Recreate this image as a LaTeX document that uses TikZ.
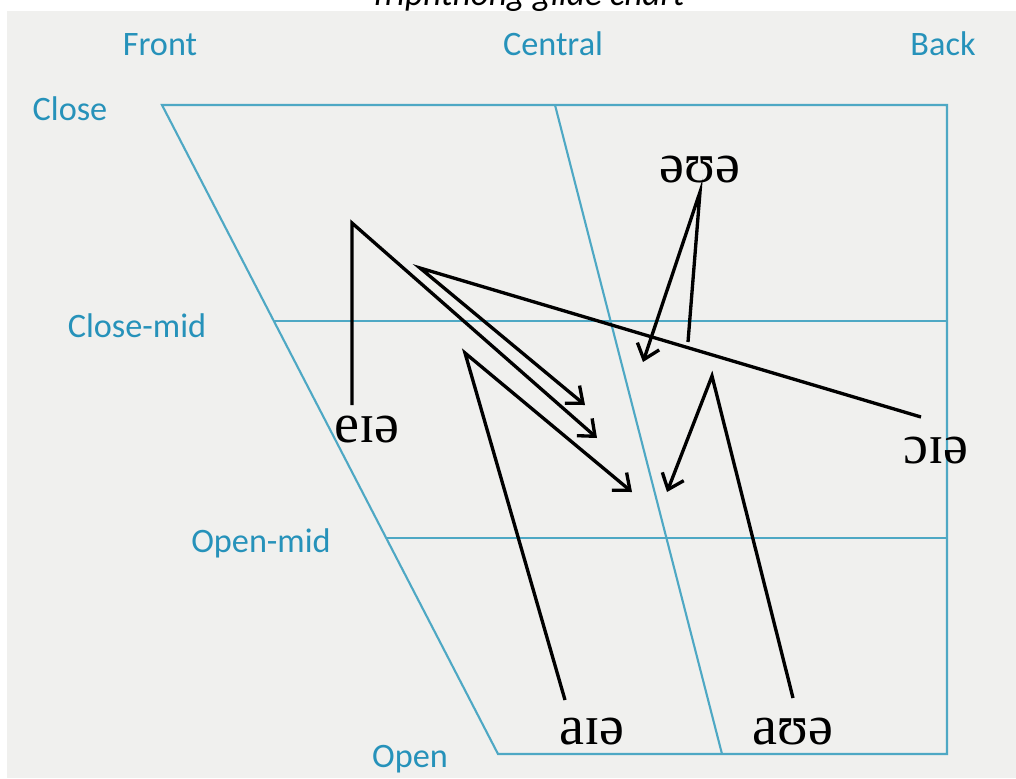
\documentclass[tikz,border=0pt]{standalone}
\usepackage{fontspec}
\setmainfont{Carlito}
\newfontfamily\ipafont{Liberation Serif}
\usetikzlibrary{arrows.meta,positioning}
\definecolor{chartline}{RGB}{78,168,196}
\definecolor{chartlbl}{RGB}{38,146,186}
\definecolor{photo}{RGB}{240,240,238}

\begin{document}
\begin{tikzpicture}[
  x=0.02cm, y=-0.02cm,
  chart/.style={draw=chartline, line width=1.2pt},
  axislbl/.style={text=chartlbl, font=\fontsize{19.5}{22}\selectfont, inner sep=0pt, anchor=base},
  vowel/.style={font=\ipafont\fontsize{32}{36}\selectfont, inner sep=0pt, anchor=base},
  glide/.style={draw=black, line width=1.9pt, line join=miter},
  arr/.style={glide, -{Straight Barb[length=2.8mm, width=4.6mm]}},
]
\useasboundingbox (0,0) rectangle (1016,778);
\clip (0,0) rectangle (1016,778);
\fill[white] (0,0) rectangle (1016,778);
\fill[photo] (7,11) rectangle (1016,778);

\node[font=\itshape\fontsize{20}{24}\selectfont, inner sep=0pt, anchor=base] (title) at (527,5) {Triphthong glide chart};

% chart corners
\coordinate (cl-f) at (162,105);
\coordinate (cl-c) at (555,105);
\coordinate (cl-b) at (947,105);
\coordinate (cm-f) at (274,321);
\coordinate (cm-b) at (947,321);
\coordinate (om-f) at (387,538);
\coordinate (om-b) at (947,538);
\coordinate (op-f) at (498,754);
\coordinate (op-c) at (722,754);
\coordinate (op-b) at (947,754);

\draw[chart] (cl-f) -- (cl-b) -- (op-b) -- (op-f) -- cycle;
\draw[chart] (cl-c) -- (op-c);
\draw[chart] (cm-f) -- (cm-b);
\draw[chart] (om-f) -- (om-b);

% axis labels
\node[axislbl] (front) at (160,55) {Front};
\node[axislbl] (central) at (553,55) {Central};
\node[axislbl] (back) at (943,55) {Back};
\node[axislbl] (close) at (70,120) {Close};
\node[axislbl] (closemid) at (137,337) {Close-mid};
\node[axislbl] (openmid) at (261,552) {Open-mid};
\node[axislbl] (open) at (410,767) {Open};

% triphthongs
\node[vowel] (eia) at (367,442) {eɪə};
\node[vowel] (oia) at (936,463) {ɔɪə};
\node[vowel] (aia) at (592,744) {aɪə};
\node[vowel] (aua) at (793,744) {aʊə};
\node[vowel] (oua) at (700,182) {əʊə};

% glide points
\coordinate (eia-1) at (352,405);
\coordinate (eia-2) at (352,223);
\coordinate (eia-3) at (597,438);
\coordinate (oia-1) at (921,417);
\coordinate (oia-2) at (420,268);
\coordinate (oia-3) at (585,405);
\coordinate (aia-1) at (565,700);
\coordinate (aia-2) at (465,353);
\coordinate (aia-3) at (632,492);
\coordinate (aua-1) at (793,698);
\coordinate (aua-2) at (712,376);
\coordinate (aua-3) at (667,492);
\coordinate (oua-1) at (688,342);
\coordinate (oua-2) at (700,192);
\coordinate (oua-3) at (643,362);

\draw[arr] (eia-1) -- (eia-2) -- (eia-3);
\draw[arr] (oia-1) -- (oia-2) -- (oia-3);
\draw[arr] (aia-1) -- (aia-2) -- (aia-3);
\draw[arr] (aua-1) -- (aua-2) -- (aua-3);
\draw[arr] (oua-1) -- (oua-2) -- (oua-3);
\end{tikzpicture}
\end{document}
